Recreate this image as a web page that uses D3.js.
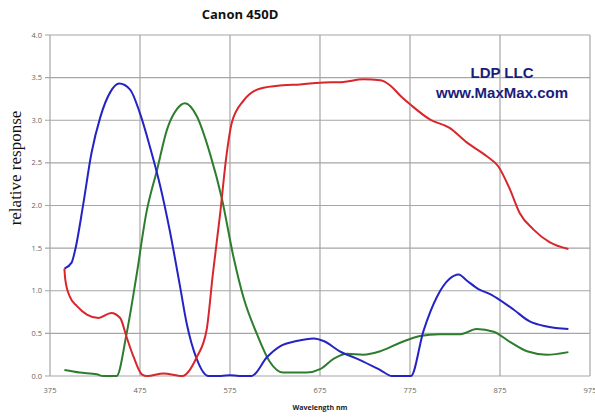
<!doctype html>
<html lang="en">
<head>
  <meta charset="utf-8">
  <title>Canon 450D</title>
  <script src="https://cdnjs.cloudflare.com/ajax/libs/d3/7.8.5/d3.min.js"></script>
  <style>
    body { margin: 0; background: #fff; }
  </style>
</head>
<body>
  <svg width="595" height="419" id="svg"></svg>
<script>

  // wavelengths (nm) and responses
  var redNm   = [391, 392, 397, 405, 416, 429, 443, 453, 460, 468, 477, 483, 501, 522, 538, 549, 556, 564, 571, 577, 590, 608, 634, 653, 675, 701, 723, 742, 754, 764, 777, 797, 819, 838, 860, 873, 886, 897, 912, 930, 951];
  var redVal  = [1.26, 1.13, 0.93, 0.82, 0.72, 0.68, 0.74, 0.68, 0.46, 0.22, 0.02, 0.0, 0.03, 0.0, 0.22, 0.54, 1.2, 1.9, 2.58, 2.97, 3.23, 3.37, 3.41, 3.42, 3.44, 3.45, 3.48, 3.47, 3.40, 3.29, 3.17, 3.01, 2.91, 2.74, 2.58, 2.46, 2.19, 1.91, 1.72, 1.57, 1.49];

  var greenNm  = [391, 408, 427, 434, 449, 460, 471, 482, 494, 505, 516, 525, 538, 553, 566, 579, 590, 605, 619, 634, 660, 675, 690, 705, 723, 742, 764, 786, 808, 831, 849, 868, 886, 905, 927, 951];
  var greenVal = [0.07, 0.04, 0.02, 0.0, 0.0, 0.49, 1.17, 1.91, 2.42, 2.89, 3.13, 3.2, 3.05, 2.6, 2.08, 1.39, 0.92, 0.49, 0.17, 0.04, 0.04, 0.08, 0.2, 0.26, 0.25, 0.29, 0.39, 0.47, 0.49, 0.49, 0.55, 0.52, 0.4, 0.29, 0.25, 0.28];

  var blueNm  = [391, 399, 403, 412, 421, 431, 442, 452, 464, 475, 486, 497, 508, 519, 527, 538, 551, 565, 575, 585, 599, 616, 631, 649, 668, 679, 697, 719, 742, 755, 776, 790, 805, 819, 829, 838, 851, 864, 875, 890, 908, 927, 951];
  var blueVal = [1.26, 1.33, 1.48, 2.02, 2.61, 3.04, 3.33, 3.43, 3.36, 3.08, 2.69, 2.25, 1.71, 1.08, 0.61, 0.2, 0.0, 0.0, 0.01, 0.0, 0.0, 0.22, 0.35, 0.41, 0.44, 0.41, 0.29, 0.19, 0.07, 0.0, 0.0, 0.53, 0.93, 1.14, 1.19, 1.12, 1.02, 0.96, 0.89, 0.78, 0.64, 0.58, 0.55];

  var xTicks = [375, 475, 575, 675, 775, 875, 975];
  var yTicks = [0, 0.5, 1, 1.5, 2, 2.5, 3, 3.5, 4];

  var svg = d3.select('#svg');

  var plotLeft = 50, plotRight = 590, plotTop = 35, plotBottom = 376;

  var x = d3.scaleLinear().domain([375, 975]).range([plotLeft, plotRight]);
  var y = d3.scaleLinear().domain([0, 4]).range([plotBottom, plotTop]);

  // grid
  svg.append('g')
    .selectAll('line')
    .data(yTicks)
    .enter()
    .append('line')
    .attr('x1', plotLeft - 5)
    .attr('x2', plotRight)
    .attr('y1', function(d) { return y(d); })
    .attr('y2', function(d) { return y(d); })
    .attr('stroke', '#a6a6a6')
    .attr('stroke-width', 1.2);

  svg.append('g')
    .selectAll('line')
    .data(xTicks)
    .enter()
    .append('line')
    .attr('x1', function(d) { return x(d); })
    .attr('x2', function(d) { return x(d); })
    .attr('y1', plotTop)
    .attr('y2', plotBottom)
    .attr('stroke', '#a6a6a6')
    .attr('stroke-width', 1.2);

  // tick labels
  svg.append('g')
    .selectAll('text')
    .data(yTicks)
    .enter()
    .append('text')
    .attr('x', plotLeft - 8)
    .attr('y', function(d) { return y(d) + 2.5; })
    .attr('text-anchor', 'end')
    .attr('font-family', 'Open Sans, sans-serif')
    .attr('font-size', '7.5px')
    .attr('fill', '#666')
    .text(function(d) { return d3.format('.1f')(d); });

  svg.append('g')
    .selectAll('text')
    .data(xTicks)
    .enter()
    .append('text')
    .attr('x', function(d) { return x(d); })
    .attr('y', 393)
    .attr('text-anchor', 'middle')
    .attr('font-family', 'Open Sans, sans-serif')
    .attr('font-size', '7.5px')
    .attr('fill', '#666')
    .text(function(d) { return d; });

  // curves
  var line = d3.line()
    .x(function(d) { return x(d[0]); })
    .y(function(d) { return y(d[1]); })
    .curve(d3.curveMonotoneX);

  var series = [
    { nm: greenNm, val: greenVal, color: '#2e7d2e' },
    { nm: blueNm, val: blueVal, color: '#2424c4' },
    { nm: redNm, val: redVal, color: '#d8262c' }
  ];

  series.forEach(function(s) {
    svg.append('path')
      .datum(d3.zip(s.nm, s.val))
      .attr('d', line)
      .attr('fill', 'none')
      .attr('stroke', s.color)
      .attr('stroke-width', 2)
      .attr('stroke-linejoin', 'round');
  });

  // texts
  svg.append('text')
    .attr('x', 240)
    .attr('y', 19)
    .attr('text-anchor', 'middle')
    .attr('font-family', 'Open Sans, sans-serif')
    .attr('font-weight', 'bold')
    .attr('font-size', '13px')
    .attr('fill', '#111')
    .text('Canon 450D');

  svg.append('text')
    .attr('x', 502)
    .attr('y', 78)
    .attr('text-anchor', 'middle')
    .attr('font-family', 'Liberation Sans, Arial, sans-serif')
    .attr('font-weight', 'bold')
    .attr('font-size', '15px')
    .attr('fill', '#1c1c7a')
    .text('LDP LLC');

  svg.append('text')
    .attr('x', 502)
    .attr('y', 98)
    .attr('text-anchor', 'middle')
    .attr('font-family', 'Liberation Sans, Arial, sans-serif')
    .attr('font-weight', 'bold')
    .attr('font-size', '15px')
    .attr('fill', '#1c1c7a')
    .text('www.MaxMax.com');

  svg.append('text')
    .attr('transform', 'translate(21,168) rotate(-90)')
    .attr('text-anchor', 'middle')
    .attr('font-family', 'Liberation Serif, serif')
    .attr('font-size', '17px')
    .attr('fill', '#111')
    .text('relative response');

  svg.append('text')
    .attr('x', 320)
    .attr('y', 410)
    .attr('text-anchor', 'middle')
    .attr('font-family', 'Open Sans, sans-serif')
    .attr('font-weight', 'bold')
    .attr('font-size', '7px')
    .attr('fill', '#222')
    .text('Wavelength nm');

</script>
</body>
</html>
